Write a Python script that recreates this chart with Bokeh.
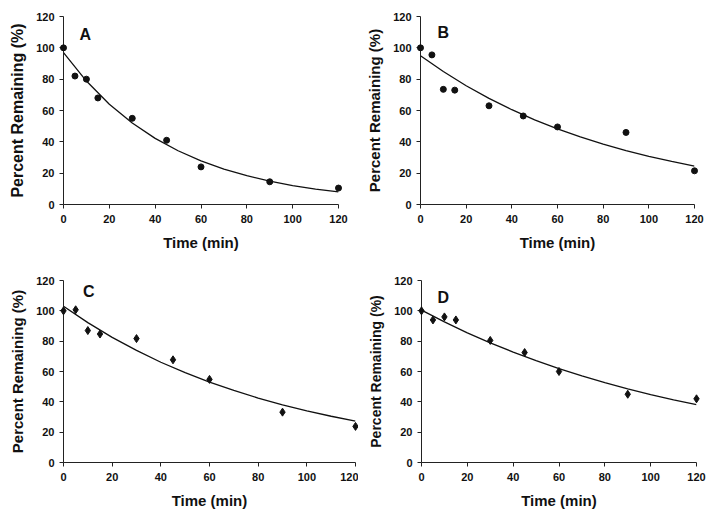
from bokeh.plotting import figure
from bokeh.layouts import column, row
from bokeh.models import Range1d, FixedTicker, Label
from bokeh.embed import file_html
from bokeh.resources import INLINE

# ---- data ----
time_pts = [0, 5, 10, 15, 30, 45, 60, 90, 120]
a_vals = [100, 82, 80, 68, 55, 41, 24, 14.5, 10.5]
b_vals = [100, 95.5, 73.5, 73, 63, 56.5, 49.5, 46, 21.5]
c_vals = [100, 100.7, 87, 84.7, 81.7, 67.7, 54.8, 33.2, 23.8]
d_vals = [100, 94, 96, 94, 80.5, 72.5, 60, 45, 42]

curve_t = [0, 10, 20, 30, 40, 50, 60, 70, 80, 90, 100, 110, 120]
a_fit = [97, 78.8, 64.0, 52.0, 42.2, 34.3, 27.8, 22.6, 18.4, 14.9, 12.1, 9.8, 8.0]
b_fit = [95, 84.9, 75.8, 67.7, 60.5, 54.0, 48.3, 43.1, 38.5, 34.4, 30.7, 27.5, 24.5]
c_fit = [103, 92.2, 82.5, 73.9, 66.1, 59.2, 53.0, 47.5, 42.5, 38.0, 34.0, 30.5, 27.3]
d_fit = [100.5, 92.7, 85.5, 78.9, 72.8, 67.1, 61.9, 57.1, 52.7, 48.6, 44.8, 41.3, 38.1]

ticks = [0, 20, 40, 60, 80, 100, 120]
panel_letters = ["A", "B", "C", "D"]

FONT = "Liberation Sans"


def panel(w, h, bl, br, bt, bb, pts, fit, letter, marker, msize,
          lx, ly, xlab_size, ylab_size):
    p = figure(width=w, height=h, x_range=Range1d(0, 120), y_range=Range1d(0, 120),
               output_backend="svg", toolbar_location=None, tools="",
               min_border_left=bl, min_border_right=br,
               min_border_top=bt, min_border_bottom=bb)
    p.outline_line_color = None
    p.grid.visible = False
    p.background_fill_color = "white"
    p.border_fill_color = "white"
    for ax in (p.xaxis[0], p.yaxis[0]):
        ax.ticker = FixedTicker(ticks=ticks)
        ax.minor_tick_line_color = None
        ax.major_tick_in = 0
        ax.major_tick_out = 4
        ax.axis_line_color = "#222222"
        ax.axis_line_width = 1
        ax.major_tick_line_color = "#222222"
        ax.major_label_text_font = FONT
        ax.major_label_text_font_style = "bold"
        ax.major_label_text_font_size = "11px"
        ax.major_label_text_color = "#111111"
        ax.axis_label_text_font = FONT
        ax.axis_label_text_font_style = "bold"
        ax.axis_label_text_color = "#111111"
    p.xaxis.axis_label = "Time (min)"
    p.yaxis.axis_label = "Percent Remaining (%)"
    p.xaxis.axis_label_text_font_size = xlab_size
    p.yaxis.axis_label_text_font_size = ylab_size
    p.xaxis.axis_label_standoff = 8
    p.yaxis.axis_label_standoff = 7
    p.xaxis.major_label_standoff = 6

    p.line(curve_t, fit, line_color="#111111", line_width=1.3)
    r = p.scatter(time_pts, pts, marker=marker, size=msize,
                  fill_color="#111111", line_color="#111111")
    r.level = "overlay"
    p.add_layout(Label(x=lx, y=ly, text=letter, text_font=FONT,
                       text_font_style="bold", text_font_size="16px",
                       text_color="#111111", text_align="left",
                       text_baseline="alphabetic"))
    return p


pa = panel(358, 258, 63, 20, 13, 54, a_vals, a_fit, panel_letters[0],
           "circle", 6, 7, 108.5, "15px", "16px")
pb = panel(356, 258, 62, 20, 16, 51, b_vals, b_fit, panel_letters[1],
           "circle", 6, 7.4, 110, "15px", "15px")
pc = panel(358, 262, 63, 3, 17, 56, c_vals, c_fit, panel_letters[2],
           "diamond", 8, 8, 112.6, "15px", "15px")
pd = panel(356, 262, 63, 18, 22, 58, d_vals, d_fit, panel_letters[3],
           "diamond", 8, 7, 108.5, "15px", "14px")

layout = column(row(pa, pb), row(pc, pd))

with open("out.html", "w") as f:
    f.write(file_html(layout, INLINE))
